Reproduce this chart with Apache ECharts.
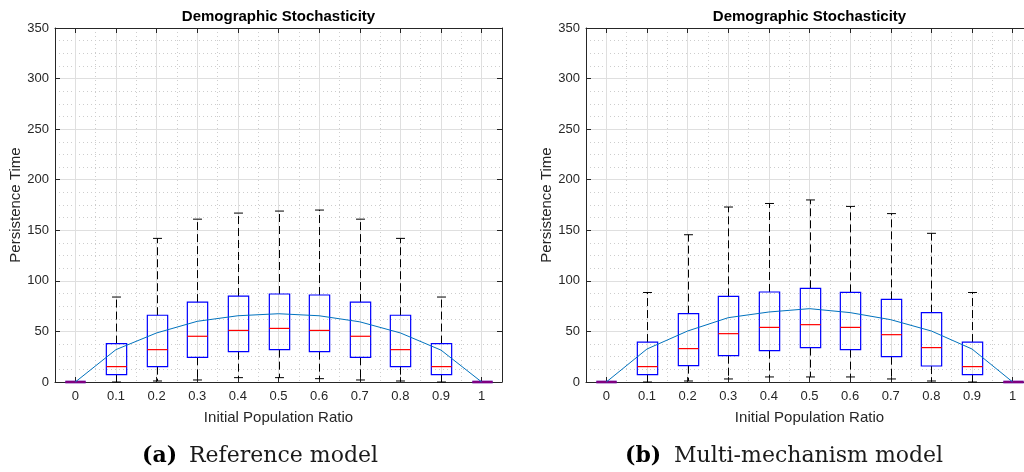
<!DOCTYPE html>
<html>
<head>
<meta charset="utf-8">
<script src="https://cdn.jsdelivr.net/npm/echarts@6/dist/echarts.min.js"></script>
<style>
  html, body { margin: 0; padding: 0; background: #fff; }
  #chart { width: 1024px; height: 472px; }
</style>
</head>
<body>
<div id="chart"></div>
<script>
// Initial population ratio categories
const categories = ['0', '0.1', '0.2', '0.3', '0.4', '0.5', '0.6', '0.7', '0.8', '0.9', '1'];
const yTicks = { min: 0, max: 350, step: 50 };

// Box statistics per ratio: [lower whisker, Q1, median, Q3, upper whisker]
const boxesReference = [
  [0, 0, 0, 0, 0],
  [0, 7.3, 15.2, 38, 84],
  [1, 15.2, 32, 66, 142],
  [2, 24.4, 45.2, 79, 161],
  [4.3, 30, 51, 85, 167],
  [4.3, 32, 53, 87, 169],
  [3.3, 30, 51, 86, 170],
  [2, 24.4, 45.2, 79, 161],
  [1, 15.2, 32, 66, 142],
  [0, 7.3, 15.2, 38, 84],
  [0, 0, 0, 0, 0]
];
const meanReference = [0, 32, 48.5, 60, 65.5, 67.5, 65.5, 59.5, 48.5, 31.5, 0];

const boxesMulti = [
  [0, 0, 0, 0, 0],
  [0, 7.3, 15.2, 39.5, 88.5],
  [1, 16.2, 33, 67.6, 145.6],
  [3, 26, 47.8, 84.7, 173],
  [5, 31, 54, 89, 176.5],
  [5, 34, 56.7, 92.6, 180],
  [5, 32, 54, 88.6, 173.6],
  [3, 25, 46.8, 81.7, 166.5],
  [1, 15.8, 34, 68.6, 147],
  [0, 7.3, 15.2, 39.5, 88.5],
  [0, 0, 0, 0, 0]
];
const meanMulti = [0, 32.6, 50.4, 63.6, 69.2, 72.5, 68.6, 61.6, 50.4, 32.6, 0];

const panels = [
  { left: 55, boxes: boxesReference, mean: meanReference, tag: '(a)', caption: 'Reference model', tagX: 142, capX: 189 },
  { left: 586, boxes: boxesMulti, mean: meanMulti, tag: '(b)', caption: 'Multi-mechanism model', tagX: 625, capX: 674 }
];

const PLOT_W = 447, PLOT_TOP = 28, PLOT_H = 354;
const AX = '#262626', GRID = '#dfdfdf', MINOR = '#cdcdcd';
const SANS = '"Liberation Sans", Arial, Helvetica, sans-serif';
const SERIF = '"DejaVu Serif", serif';

// Draws one MATLAB-style box: dashed whiskers, caps, blue box, red median
function renderBox(params, api) {
  const i = api.value(0);
  const v = [1, 2, 3, 4, 5].map(k => api.value(k));
  const px = v.map(val => api.coord([i, val]));
  const x = Math.round(px[0][0]) + 0.5;
  const band = api.size([1, 0])[0];
  const bw = band * 0.5, cw = band * 0.22;
  const yLow = px[0][1], yQ1 = px[1][1], yMed = px[2][1], yQ3 = px[3][1], yHigh = px[4][1];
  const collapsed = v[3] - v[1] === 0;
  const dash = { stroke: '#000', lineWidth: 1, lineDash: [8, 4] };
  const solid = { stroke: '#000', lineWidth: 1 };
  const children = [
    { type: 'line', shape: { x1: x, y1: yQ3, x2: x, y2: yHigh }, style: dash },
    { type: 'line', shape: { x1: x, y1: yQ1, x2: x, y2: yLow }, style: dash },
    { type: 'line', shape: { x1: x - cw / 2, y1: yHigh, x2: x + cw / 2, y2: yHigh }, style: solid },
    { type: 'line', shape: { x1: x - cw / 2, y1: yLow, x2: x + cw / 2, y2: yLow }, style: solid }
  ];
  if (collapsed) {
    children.push({ type: 'line', shape: { x1: x - bw / 2, y1: yMed, x2: x + bw / 2, y2: yMed },
      style: { stroke: '#0000ff', lineWidth: 2.5 } });
    children.push({ type: 'line', shape: { x1: x - bw / 2, y1: yMed, x2: x + bw / 2, y2: yMed },
      style: { stroke: '#ff0000', lineWidth: 2.5, opacity: 0.5 } });
  } else {
    children.push({ type: 'rect', shape: { x: x - bw / 2, y: yQ3, width: bw, height: yQ1 - yQ3 },
      style: { fill: 'none', stroke: '#0000ff', lineWidth: 1.2 } });
    children.push({ type: 'line', shape: { x1: x - bw / 2, y1: yMed, x2: x + bw / 2, y2: yMed },
      style: { stroke: '#ff0000', lineWidth: 1.2 } });
  }
  return { type: 'group', children };
}

const grid = [], xAxis = [], yAxis = [], series = [], graphic = [];

panels.forEach((p, g) => {
  grid.push({ left: p.left, top: PLOT_TOP, width: PLOT_W, height: PLOT_H,
    containLabel: false, outerBoundsMode: 'none' });

  // bottom category axis: labels, ticks, dotted grid at band boundaries
  xAxis.push({
    type: 'category', gridIndex: g, position: 'bottom', data: categories, boundaryGap: true,
    name: 'Initial Population Ratio', nameLocation: 'middle', nameGap: 28,
    nameTextStyle: { fontFamily: SANS, fontSize: 15, color: AX },
    axisLine: { show: true, onZero: false, lineStyle: { color: AX, width: 1 } },
    axisTick: { show: true, inside: true, length: 5, alignWithLabel: true, interval: 0, lineStyle: { color: AX } },
    axisLabel: { show: true, interval: 0, margin: 8, fontFamily: SANS, fontSize: 13, color: AX },
    splitLine: { show: true, interval: 0, lineStyle: { color: MINOR, type: [1, 3], width: 1 } }
  });
  // top frame with ticks
  xAxis.push({
    type: 'category', gridIndex: g, position: 'top', data: categories, boundaryGap: true,
    axisLine: { show: true, onZero: false, lineStyle: { color: AX, width: 1 } },
    axisTick: { show: true, inside: true, length: 5, alignWithLabel: true, interval: 0, lineStyle: { color: AX } },
    axisLabel: { show: false }, splitLine: { show: false }
  });
  // half-band value axis used for solid grid lines at category centres
  xAxis.push({
    type: 'value', gridIndex: g, position: 'bottom', min: 0, max: 22, interval: 2,
    axisLine: { show: false }, axisTick: { show: false }, axisLabel: { show: false },
    splitLine: { show: false },
    minorTick: { show: false, splitNumber: 2 },
    minorSplitLine: { show: true, lineStyle: { color: GRID, width: 1 } }
  });

  yAxis.push({
    type: 'value', gridIndex: g, position: 'left', min: yTicks.min, max: yTicks.max, interval: yTicks.step,
    name: 'Persistence Time', nameLocation: 'middle', nameGap: 32, nameRotate: 90,
    nameTextStyle: { fontFamily: SANS, fontSize: 15, color: AX },
    axisLine: { show: true, onZero: false, lineStyle: { color: AX, width: 1 } },
    axisTick: { show: true, inside: true, length: 5, lineStyle: { color: AX } },
    axisLabel: { show: true, margin: 6, fontFamily: SANS, fontSize: 13, color: AX },
    splitLine: { show: true, lineStyle: { color: GRID, width: 1 } },
    minorTick: { show: false, splitNumber: 4 },
    minorSplitLine: { show: true, lineStyle: { color: MINOR, type: [1, 3], width: 1 } }
  });
  yAxis.push({
    type: 'value', gridIndex: g, position: 'right', min: yTicks.min, max: yTicks.max, interval: yTicks.step,
    axisLine: { show: true, onZero: false, lineStyle: { color: AX, width: 1 } },
    axisTick: { show: true, inside: true, length: 5, lineStyle: { color: AX } },
    axisLabel: { show: false }, splitLine: { show: false }
  });

  const xi = g * 3, yi = g * 2;
  series.push({
    type: 'custom', xAxisIndex: xi, yAxisIndex: yi, z: 3,
    renderItem: renderBox,
    encode: { x: 0, y: [1, 2, 3, 4, 5] },
    data: p.boxes.map((b, i) => [i].concat(b)),
    silent: true, animation: false
  });
  series.push({
    type: 'line', xAxisIndex: xi, yAxisIndex: yi, z: 4,
    data: p.mean, symbol: 'none', silent: true, animation: false,
    lineStyle: { color: '#0072bd', width: 1 }
  });

  // panel title
  graphic.push({
    type: 'text', x: p.left + PLOT_W / 2, y: 9, silent: true,
    style: { text: 'Demographic Stochasticity', fontFamily: SANS, fontSize: 15, fontWeight: 'bold',
      fill: '#000', align: 'center', verticalAlign: 'top' }
  });
  // sub-figure caption
  graphic.push({
    type: 'text', x: p.tagX, y: 456, silent: true,
    style: { text: p.tag, fontFamily: SERIF, fontSize: 22, fontWeight: 'bold', fill: '#000',
      align: 'left', verticalAlign: 'middle' }
  });
  graphic.push({
    type: 'text', x: p.capX, y: 456, silent: true,
    style: { text: p.caption, fontFamily: SERIF, fontSize: 22, fill: '#1a1a1a',
      align: 'left', verticalAlign: 'middle' }
  });
});

const chart = echarts.init(document.getElementById('chart'), null, { renderer: 'canvas' });
chart.setOption({
  backgroundColor: '#fff',
  animation: false,
  grid, xAxis, yAxis, series, graphic
});
</script>
</body>
</html>
